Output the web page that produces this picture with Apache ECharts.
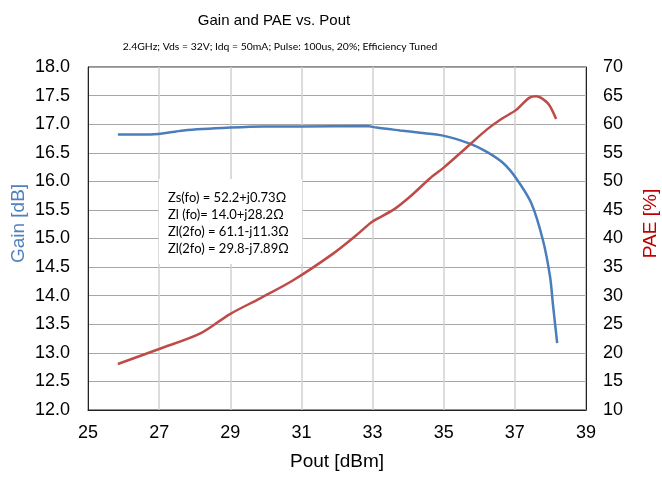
<!DOCTYPE html>
<html>
<head>
<meta charset="utf-8">
<script src="https://cdn.jsdelivr.net/npm/echarts@6/dist/echarts.min.js"></script>
<style>html,body{margin:0;padding:0;background:#fff;}#c{width:662px;height:478px;}</style>
</head>
<body>
<div id="c"></div>
<script>
var poutGain = [25.84, 26.76, 27.69, 29.0, 29.93, 30.96, 32.83, 33.11, 33.77, 34.33, 34.98, 35.73, 36.2, 36.67, 37.04, 37.46, 37.79, 37.99, 38.07, 38.19];
var gainValues = [16.82, 16.82, 16.89, 16.94, 16.96, 16.96, 16.97, 16.94, 16.89, 16.85, 16.80, 16.66, 16.52, 16.32, 16.05, 15.62, 14.97, 14.33, 13.85, 13.17];
var poutPae = [25.84, 27.0, 28.16, 28.98, 29.84, 30.78, 31.9, 32.55, 32.99, 33.58, 34.05, 34.61, 35.0, 35.73, 36.2, 36.62, 37.04, 37.4, 37.6, 37.74, 37.96, 38.16];
var paeValues = [18.05, 20.67, 23.4, 26.74, 29.54, 32.74, 37.4, 40.6, 42.94, 45.0, 47.3, 50.5, 52.4, 56.4, 59.0, 60.9, 62.5, 64.6, 64.9, 64.6, 63.4, 60.9];
var xTicks = [25, 27, 29, 31, 33, 35, 37, 39];
var impedanceLines = ['Zs(fo) = 52.2+j0.73Ω', 'Zl (fo)= 14.0+j28.2Ω', 'Zl(2fo) = 61.1-j11.3Ω', 'Zl(2fo) = 29.8-j7.89Ω'];

function pairs(xs, ys) { return xs.map(function (x, i) { return [x, ys[i]]; }); }

var chart = echarts.init(document.getElementById('c'));
var axisFont = { fontFamily: 'Liberation Sans, Arial', fontSize: 18, color: '#000' };
chart.setOption({
  animation: false,
  title: [
    { text: 'Gain and PAE vs. Pout', left: 269, top: 8, textAlign: 'center',
      textStyle: { fontFamily: 'Liberation Sans, Arial', fontSize: 15, fontWeight: 'normal', color: '#000' } },
    { text: '2.4GHz; Vds = 32V; Idq = 50mA; Pulse: 100us, 20%; Efficiency Tuned', left: 275, top: 37, textAlign: 'center',
      textStyle: { fontFamily: 'Lato', fontSize: 10.4, fontWeight: 'normal', color: '#000' } }
  ],
  grid: { left: 88, right: 76, top: 67, bottom: 68, outerBoundsMode: 'none', containLabel: false,
    show: true, borderColor: '#222', borderWidth: 1, backgroundColor: 'transparent' },
  xAxis: {
    type: 'value', min: 25, max: 39, interval: 2,
    name: 'Pout [dBm]', nameLocation: 'middle', nameGap: 42,
    nameTextStyle: { fontFamily: 'Liberation Sans, Arial', fontSize: 19, color: '#000' },
    axisLine: { show: true, lineStyle: { color: '#222' } },
    axisTick: { show: false },
    axisLabel: Object.assign({ margin: 14 }, axisFont),
    splitLine: { show: true, lineStyle: { color: '#d0d0d0', width: 1.5 } }
  },
  yAxis: [
    { type: 'value', min: 12, max: 18, interval: 0.5, position: 'left',
      name: 'Gain [dB]', nameLocation: 'middle', nameGap: 60, nameMoveOverlap: false,
      nameTextStyle: { fontFamily: 'Liberation Sans, Arial', fontSize: 19, color: '#4f81bd', padding: [0, 0, 0, 30] },
      axisLine: { show: true, lineStyle: { color: '#222' } },
      axisTick: { show: false },
      axisLabel: Object.assign({ margin: 18, formatter: function (v) { return v.toFixed(1); } }, axisFont),
      splitLine: { show: true, lineStyle: { color: '#a6a6a6', width: 1.2 } }
    },
    { type: 'value', min: 10, max: 70, interval: 5, position: 'right',
      name: 'PAE [%]', nameLocation: 'middle', nameGap: 55, nameMoveOverlap: false,
      nameTextStyle: { fontFamily: 'Liberation Sans, Arial', fontSize: 19, color: '#c00000', padding: [0, 0, 0, 30] },
      axisLine: { show: true, lineStyle: { color: '#222' } },
      axisTick: { show: false },
      axisLabel: Object.assign({ margin: 17 }, axisFont),
      splitLine: { show: false }
    }
  ],
  series: [
    { type: 'line', name: 'Gain', yAxisIndex: 0, data: pairs(poutGain, gainValues), smooth: 0.3, showSymbol: false,
      lineStyle: { color: '#4a7ebb', width: 2.5 }, z: 3 },
    { type: 'line', name: 'PAE', yAxisIndex: 1, data: pairs(poutPae, paeValues), smooth: 0.3, showSymbol: false,
      lineStyle: { color: '#be4b48', width: 2.5 }, z: 3 }
  ],
  graphic: [
    { type: 'rect', shape: { x: 159, y: 179, width: 143, height: 85 }, style: { fill: '#fff' }, z: 10 },
    { type: 'text', left: 168, top: 189, z: 11,
      style: { text: impedanceLines.join('\n'), fontFamily: 'Lato', fontSize: 13, lineHeight: 17, fill: '#000' } }
  ]
});
</script>
</body>
</html>
